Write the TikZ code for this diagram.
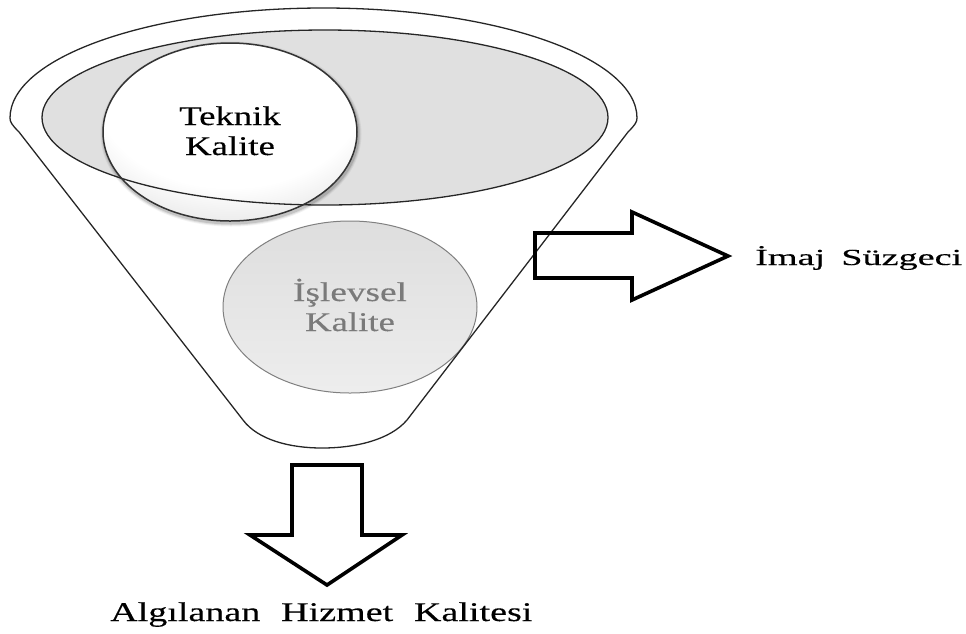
\documentclass[tikz,border=0pt]{standalone}
\usepackage{fontspec}
\setmainfont{Liberation Serif}[FakeBold=0.25]
\usepackage{graphicx}
\begin{document}
\pgfdeclareradialshading{tkshade}{\pgfpoint{0bp}{14bp}}{color(0bp)=(white); color(26bp)=(white); color(44bp)=(black!16); color(51bp)=(black!38); color(100bp)=(black!38)}
\begin{tikzpicture}[x=1pt,y=1pt,
  outline/.style={draw=black!85, line width=1.3pt},
  bigarrow/.style={draw=black, line width=3.6pt, line join=miter},
  lbl/.style={inner sep=0pt, font=\fontsize{27}{30}\selectfont, text=black},
  graylbl/.style={lbl, text=black!52},
  sidelbl/.style={inner sep=0pt, font=\fontsize{23}{27}\selectfont, text=black}]
\useasboundingbox (0,0) rectangle (966,-633);

% filter bowl: grey disc with the technical-quality circle on it
\fill[black!12] (325,-117.5) ellipse[x radius=283, y radius=87.5];
% soft shadow under the technical-quality circle
\foreach \w/\o in {7/0.05, 5/0.08, 3/0.12}
  \draw[black, line width=\w pt, opacity=\o] (231,-134) ellipse[x radius=127, y radius=89];
\shade[shading=tkshade] (230,-132) ellipse[x radius=127, y radius=89];
\draw[outline] (325,-117.5) ellipse[x radius=283, y radius=87.5];
\draw[draw=black!80, line width=1.5pt] (230,-132) ellipse[x radius=127, y radius=89];

% functional-quality circle
\shade[top color=black!13, bottom color=black!7, draw=black!50, line width=1pt]
  (350,-307) ellipse[x radius=127, y radius=86];

% funnel outline
\draw[outline] (10,-118) arc[start angle=180, end angle=0, x radius=313.5, y radius=110]
  .. controls (637,-122) and (635,-125) .. (628,-132)
  -- (407,-420) .. controls (390,-440) and (355,-448) .. (322,-448)
  .. controls (290,-448) and (258,-440) .. (243,-420)
  -- (19,-132) .. controls (12,-125) and (10,-122) .. (10,-118) -- cycle;

% block arrows
\draw[bigarrow] (535,-233) -- (632,-233) -- (632,-212) -- (728,-256)
  -- (632,-300) -- (632,-278) -- (535,-278) -- cycle;
\draw[bigarrow] (292,-465) -- (362,-465) -- (362,-535) -- (402,-535)
  -- (327,-585) -- (250,-535) -- (292,-535) -- cycle;

% labels
\node[lbl, anchor=base] (tk1) at (230,-125) {\scalebox{1.36}[1]{Teknik}};
\node[lbl, anchor=base] (tk2) at (230,-155) {\scalebox{1.36}[1]{Kalite}};
\node[graylbl, anchor=base] (is1) at (350,-301) {\scalebox{1.38}[1]{İşlevsel}};
\node[graylbl, anchor=base] (is2) at (350,-331) {\scalebox{1.36}[1]{Kalite}};
\node[sidelbl, anchor=base west] (imaj) at (755,-265)
  {\scalebox{1.66}[1]{İmaj\hspace{4pt} Süzgeci}};
\node[lbl, anchor=base west] (alg) at (110,-621)
  {\scalebox{1.41}[1]{Algılanan\hspace{8pt} Hizmet\hspace{8pt} Kalitesi}};
\end{tikzpicture}
\end{document}
